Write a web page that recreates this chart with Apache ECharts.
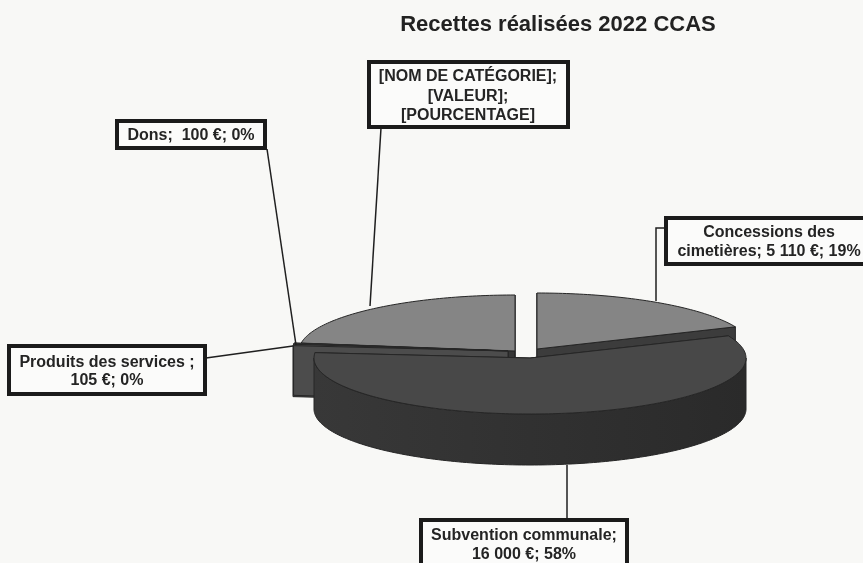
<!DOCTYPE html>
<html>
<head>
<meta charset="utf-8">
<style>html,body{margin:0;padding:0;background:#f8f8f6}#c{width:863px;height:563px}</style>
<script src="https://cdn.jsdelivr.net/npm/echarts@6/dist/echarts.min.js"></script>
</head>
<body>
<div id="c"></div>
<script>
// ---- data (clockwise from the top) ----
const categories = ['Concessions des cimetières', 'Subvention communale', 'Produits des services', 'Dons', '[NOM DE CATÉGORIE]'];
const values = [5110, 16000, 105, 100, 6270];
const labelLines = [
  ['Concessions des', 'cimetières; 5 110 €; 19%'],
  ['Subvention communale;', '16 000 €; 58%'],
  ['Produits des services ;', '105 €; 0%'],
  ['Dons;  100 €; 0%'],
  ['[NOM DE CATÉGORIE];', '[VALEUR];', '[POURCENTAGE]']
];
const titleText = 'Recettes réalisées 2022 CCAS';

// ---- layout and styles (separate from the data) ----
const RX = 216, RY = 56, DEPTH = 51;
const centres = [[537, 349], [530, 358], [508, 351], [508, 351], [515, 351]];
const topFill = ['#858585', '#484848', '#505050', '#505050', '#858585'];
const sideFill = ['#3c3c3c', '#333333', '#4c4c4c', '#4c4c4c', '#363636'];
const drawOrder = [4, 0, 3, 2, 1];
const boxes = [
  [666, 218, 210, 46], [421, 520, 206, 60], [9, 346, 196, 48], [117, 121, 148, 27], [369, 62, 199, 65]
];
const leaders = [
  [[665, 228], [656, 228], [656, 301]],
  [[567, 519], [567, 465]],
  [[206, 358], [293, 346]],
  [[267, 149], [296, 345]],
  [[381, 128], [370, 306]]
];
const textStart = [[769, 233], [524, 536], [107, 363], [191, 136], [468, 77]];
const LINE_H = [19, 19, 18, 18, 19.5];

const total = values.reduce((a, b) => a + b, 0);
const starts = [];
values.reduce((acc, v, i) => { starts[i] = acc; return acc + v; }, 0);
const toAngle = v => v / total * Math.PI * 2;
const rim = (c, a, dy) => [c[0] + RX * Math.sin(a), c[1] - RY * Math.cos(a) + (dy || 0)];

function arcPts(c, a0, a1, dy) {
  const n = Math.max(2, Math.ceil(Math.abs(a1 - a0) / 0.02));
  const out = [];
  for (let i = 0; i <= n; i++) out.push(rim(c, a0 + (a1 - a0) * i / n, dy));
  return out;
}
function hband(a, b) {
  return new echarts.graphic.LinearGradient(0, 0, 1, 0, [{offset: 0, color: a}, {offset: 1, color: b}]);
}

function renderSlice(params, api) {
  const idx = api.value(0);
  const c = centres[idx];
  const a0 = toAngle(api.value(2));
  const a1 = a0 + toAngle(api.value(1));
  const children = [];
  const face = (pts, fill, stroke) => children.push({
    type: 'polygon', shape: {points: pts},
    style: {fill: fill, stroke: stroke || '#262626', lineWidth: 1}
  });
  const low = [c[0], c[1] + DEPTH];
  // cut faces
  [a0, a1].forEach(a => face([c, rim(c, a), rim(c, a, DEPTH), low], sideFill[idx]));
  // outer wall (front half only)
  const f0 = Math.max(a0, Math.PI / 2), f1 = Math.min(a1, Math.PI * 1.5);
  if (f1 > f0) {
    const up = arcPts(c, f0, f1, 0), dn = arcPts(c, f1, f0, DEPTH);
    face(up.concat(dn), hband('#383838', '#2a2a2a'), '#262626');
  }
  // top surface
  face([c].concat(arcPts(c, a0, a1, 0)), hband(topFill[idx], topFill[idx]), '#262626');
  return {type: 'group', children: children};
}

const sliceData = drawOrder.map(i => ({name: categories[i], value: [i, values[i], starts[i]]}));

const annotations = [];
categories.forEach((name, i) => {
  annotations.push({
    type: 'polyline', z: 10, silent: true, shape: {points: leaders[i]},
    style: {stroke: '#1f1f1f', lineWidth: 1.5, fill: null}
  });
  const b = boxes[i];
  annotations.push({
    type: 'rect', z: 11, silent: true, shape: {x: b[0], y: b[1], width: b[2], height: b[3]},
    style: {fill: '#fbfbfa', stroke: '#1b1b1b', lineWidth: 4}
  });
  labelLines[i].forEach((t, k) => annotations.push({
    type: 'text', z: 12, silent: true,
    x: textStart[i][0], y: textStart[i][1] + k * LINE_H[i],
    style: {text: t, fill: '#242424', font: 'bold 16px "Liberation Sans", Arial, sans-serif', align: 'center', verticalAlign: 'middle'}
  }));
});

const chart = echarts.init(document.getElementById('c'), null, {renderer: 'canvas'});
chart.setOption({
  animation: false,
  backgroundColor: '#f8f8f6',
  title: {
    text: titleText, left: 553, top: 9, textAlign: 'center',
    textStyle: {fontFamily: '"Liberation Sans", Arial, sans-serif', fontWeight: 'bold', fontSize: 22, color: '#222222'}
  },
  graphic: {elements: annotations},
  series: [{
    type: 'custom',
    coordinateSystem: 'none',
    silent: true,
    renderItem: renderSlice,
    data: sliceData
  }]
});
</script>
</body>
</html>
